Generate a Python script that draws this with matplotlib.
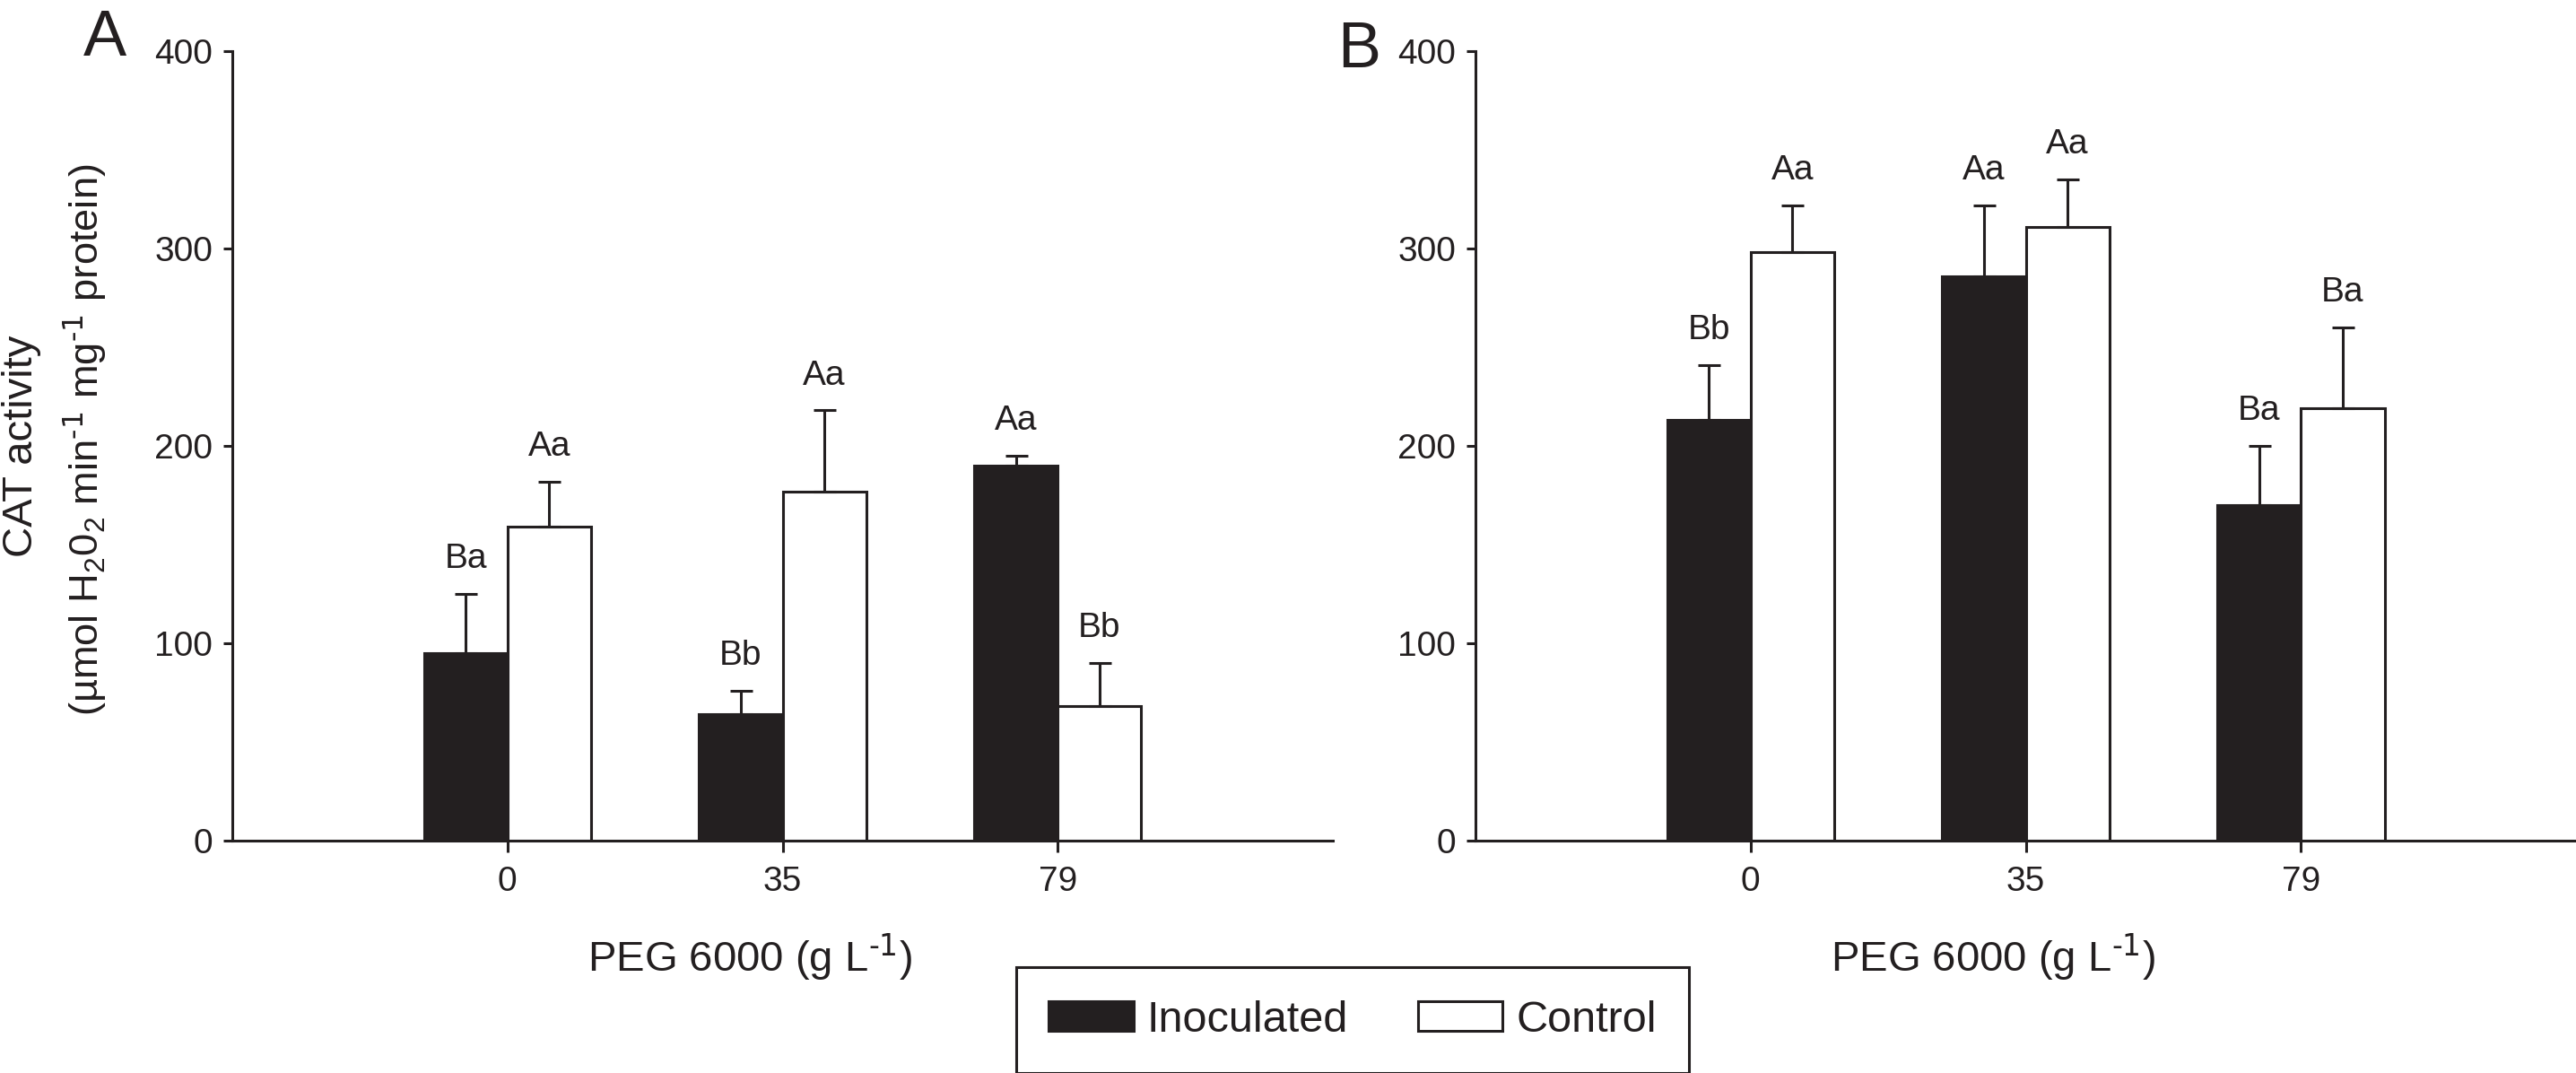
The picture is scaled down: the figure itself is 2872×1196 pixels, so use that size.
import matplotlib
matplotlib.use("Agg")
import matplotlib.pyplot as plt
import numpy as np

plt.rcParams['font.family'] = ['Liberation Sans Narrow', 'Liberation Sans', 'DejaVu Sans']

# PEG 6000 levels (g L-1)
peg = ["0", "35", "79"]

# panel A
inoc_a = [95, 64, 190]
inoc_a_err = [30, 12, 5]
ctrl_a = [159, 177, 68]
ctrl_a_err = [23, 41, 22]
inoc_a_lab = ["Ba", "Bb", "Aa"]
ctrl_a_lab = ["Aa", "Aa", "Bb"]

# panel B
inoc_b = [213, 286, 170]
inoc_b_err = [28, 36, 30]
ctrl_b = [298, 311, 219]
ctrl_b_err = [24, 24, 41]
inoc_b_lab = ["Bb", "Aa", "Ba"]
ctrl_b_lab = ["Aa", "Aa", "Ba"]

ink = '#231f20'
w = 0.304

fig = plt.figure(figsize=(14.36, 5.98), dpi=200)
axA = fig.add_axes([0.0902, 0.2166, 0.4272, 0.7357])
axB = fig.add_axes([0.5728, 0.2166, 0.4272, 0.7357])


def panel(ax, inoc, inoc_err, ctrl, ctrl_err, inoc_lab, ctrl_lab):
    x = np.arange(1, len(peg) + 1)
    ax.bar(x - w / 2, inoc, w, color=ink, edgecolor=ink, linewidth=1.1,
           label='Inoculated', zorder=2)
    ax.bar(x + w / 2, ctrl, w, color='white', edgecolor=ink, linewidth=1.1,
           label='Control', zorder=2)
    ax.errorbar(x - w / 2, inoc, yerr=[np.zeros(len(x)), inoc_err], fmt='none',
                ecolor=ink, elinewidth=1.1, capsize=4.5, capthick=1.1, zorder=1)
    ax.errorbar(x + w / 2, ctrl, yerr=[np.zeros(len(x)), ctrl_err], fmt='none',
                ecolor=ink, elinewidth=1.1, capsize=4.5, capthick=1.1, zorder=3)
    for i in range(len(x)):
        ax.text(x[i] - w / 2, inoc[i] + inoc_err[i] + 13, inoc_lab[i],
                ha='center', va='baseline', fontsize=14, color=ink)
        ax.text(x[i] + w / 2, ctrl[i] + ctrl_err[i] + 13, ctrl_lab[i],
                ha='center', va='baseline', fontsize=14, color=ink)
    ax.set_xlim(0, 4)
    ax.set_ylim(0, 400)
    ax.set_xticks(x)
    ax.set_xticklabels(peg)
    ax.set_yticks([0, 100, 200, 300, 400])
    for s in ['top', 'right']:
        ax.spines[s].set_visible(False)
    for s in ['left', 'bottom']:
        ax.spines[s].set_linewidth(1.1)
        ax.spines[s].set_color(ink)
    ax.tick_params(axis='y', direction='out', length=3.6, width=1.1, pad=4.3,
                   labelsize=14, colors=ink)
    ax.tick_params(axis='x', direction='out', length=4.5, width=1.1, pad=5.5,
                   labelsize=14, colors=ink)
    ax.set_xlabel('PEG 6000 (g L$^{\\text{-1}}$)', fontsize=17, color=ink,
                  va='baseline')
    ax.xaxis.set_label_coords(0.47, -0.166)


panel(axA, inoc_a, inoc_a_err, ctrl_a, ctrl_a_err, inoc_a_lab, ctrl_a_lab)
panel(axB, inoc_b, inoc_b_err, ctrl_b, ctrl_b_err, inoc_b_lab, ctrl_b_lab)

# y axis title, two lines
fig.text(0.0084, 0.584, 'CAT activity', rotation=90, ha='center', va='center',
         fontsize=17, color=ink)
fig.text(0.033, 0.59,
         '(\u00b5mol H$_{\\mathregular{2}}$0$_{\\mathregular{2}}$ min$^{\\text{-1}}$ '
         'mg$^{\\text{-1}}$ protein)',
         rotation=90, ha='center', va='center', fontsize=16.3, color=ink)

fig.text(117 / 2872, 1 - 62 / 1196, 'A', ha='center', va='baseline', fontsize=26, color=ink)
fig.text(1515 / 2872, 1 - 75 / 1196, 'B', ha='center', va='baseline', fontsize=26, color=ink)

leg = axA.legend(loc='center', bbox_to_anchor=(0.525, 0.0493),
                 bbox_transform=fig.transFigure, ncol=2, fontsize=17.5,
                 frameon=True, fancybox=False, framealpha=1, edgecolor=ink,
                 handlelength=1.95, handleheight=0.65, handletextpad=0.3,
                 columnspacing=1.6, borderpad=0.75, borderaxespad=0)
leg.get_frame().set_linewidth(1.1)
for t in leg.get_texts():
    t.set_color(ink)

fig.savefig('out.png', dpi=200)
